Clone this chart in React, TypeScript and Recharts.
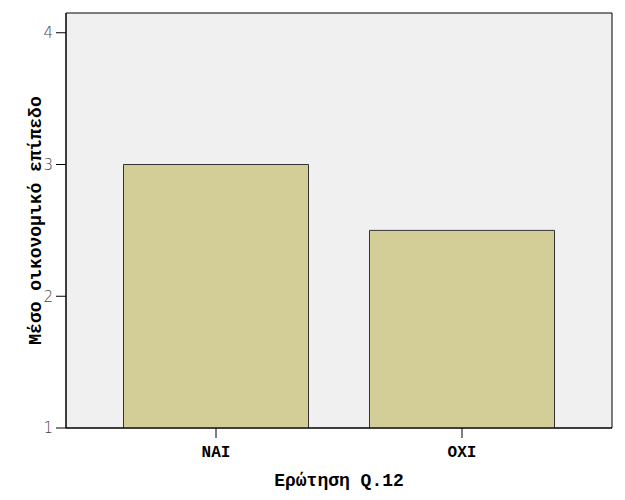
import React from 'react';
import { BarChart, Bar, XAxis, YAxis, CartesianGrid } from 'recharts';

const categories = ['NAI', 'OXI'];
const values = [3.0, 2.5];
const yTicks = [1, 2, 3, 4];

const data = categories.map((c, i) => ({ name: c, value: values[i] }));

const mono = '"Liberation Mono", "Courier New", monospace';

export default function App() {
  return (
    <div style={{ position: 'absolute', left: 0, top: 0, width: 625, height: 500, background: '#fff' }}>
      <BarChart
        width={625}
        height={500}
        data={data}
        margin={{ top: 13, right: 13, bottom: 0, left: 0 }}
        barCategoryGap="12.4%"
      >
        <CartesianGrid
          fill="#F0F0F0"
          stroke="#000"
          strokeOpacity={1}
          horizontalCoordinatesGenerator={({ offset }: any) => [offset.top, offset.top + offset.height]}
          verticalCoordinatesGenerator={({ offset }: any) => [offset.left, offset.left + offset.width]}
        />
        <XAxis
          dataKey="name"
          height={72}
          padding={{ left: 27, right: 27 }}
          tickSize={10}
          tickMargin={8}
          axisLine={{ stroke: '#000' }}
          tickLine={{ stroke: '#000' }}
          tick={{ fontFamily: mono, fontWeight: 'bold', fontSize: 16, fill: '#000' }}
          label={{
            value: 'Ερώτηση Q.12',
            position: 'insideBottom',
            offset: 14,
            style: { fontFamily: mono, fontWeight: 'bold', fontSize: 18, fill: '#000' },
          }}
        />
        <YAxis
          width={66}
          domain={[1, 4.15]}
          allowDataOverflow
          ticks={yTicks}
          tickSize={10}
          tickMargin={3}
          axisLine={{ stroke: '#000' }}
          tickLine={{ stroke: '#000' }}
          tick={{ fontFamily: '"DejaVu Sans", sans-serif', fontWeight: 300, fontSize: 15, fill: '#444' }}
          label={{
            value: 'Μέσο οικονομικό επίπεδο',
            angle: -90,
            position: 'center',
            dx: 2,
            style: { fontFamily: mono, fontWeight: 'bold', fontSize: 18, fill: '#000', textAnchor: 'middle' },
          }}
        />
        <Bar dataKey="value" fill="#D3CE97" stroke="#333" strokeWidth={1} isAnimationActive={false} />
      </BarChart>
    </div>
  );
}
